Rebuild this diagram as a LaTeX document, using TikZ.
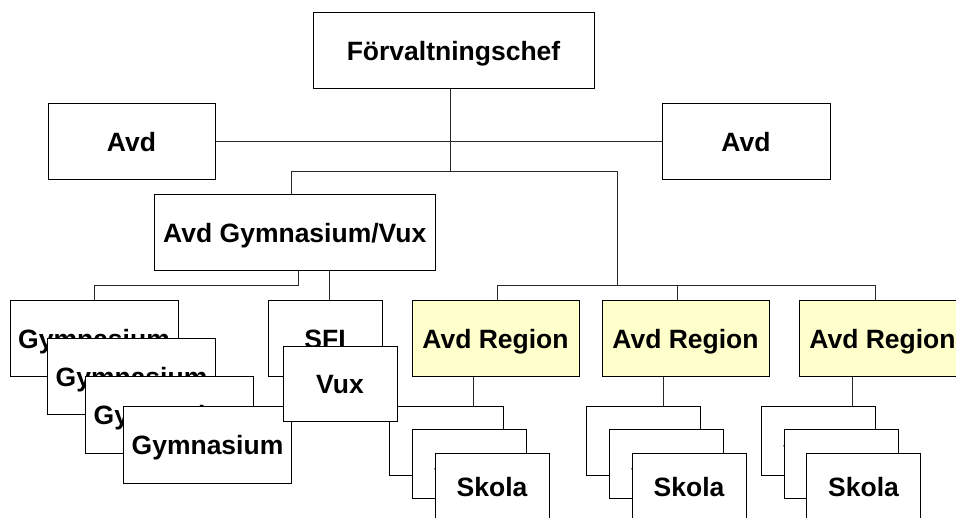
\documentclass[tikz,border=0pt]{standalone}
\usepackage{fontspec}
\setmainfont{Liberation Sans}
\usetikzlibrary{backgrounds}
\definecolor{regyellow}{RGB}{255,255,204}
\definecolor{linegray}{RGB}{40,40,40}
\begin{document}
\begin{tikzpicture}[x=1pt,y=-1pt,
  box/.style={draw=black, fill=white, line width=1pt, inner sep=0pt,
    font=\fontsize{26.5}{30}\selectfont\bfseries,
    text height=19pt, text depth=0pt, minimum height=76pt},
  regbox/.style={box, fill=regyellow, minimum width=167pt},
  skolabox/.style={box, minimum width=114pt, minimum height=68pt},
  gymbox/.style={box, minimum width=168pt},
  conn/.style={draw=linegray, line width=1pt}]
\useasboundingbox (0,0) rectangle (956,518);
\clip (0,0) rectangle (956,518);

% top levels
\node[box, minimum width=281pt] (chef) at (453.5,51) {Förvaltningschef};
\node[box, minimum width=167pt] (avdL) at (131.5,142) {Avd};
\node[box, minimum width=168pt] (avdR) at (746,142) {Avd};
\node[box, minimum width=281pt] (avdGV) at (294.8,233) {Avd Gymnasium/Vux};

% Gymnasium stack
\node[gymbox] (g1) at (94,339) {Gymnasium};
\node[gymbox] (g2) at (131.5,377) {Gymnasium};
\node[gymbox] (g3) at (169.5,415) {Gymnasium};
\node[gymbox] (g4) at (207.5,445) {Gymnasium};

% SFI
\node[box, minimum width=114pt] (sfi) at (325,339) {SFI};

% Regions
\node[regbox] (r1) at (495.5,339) {Avd Region};
\node[regbox] (r2) at (685.5,339) {Avd Region};
\node[regbox] (r3) at (882.5,339) {Avd Region};

% Skola stacks
\node[skolabox] (s1a) at (446.5,441) {Skola};
\node[skolabox] (s1b) at (469,464) {Skola};
\node[skolabox] (s1c) at (492,487) {Skola};
\node[skolabox] (s2a) at (643.5,441) {Skola};
\node[skolabox] (s2b) at (666,464) {Skola};
\node[skolabox] (s2c) at (689,487) {Skola};
\node[skolabox] (s3a) at (818,441) {Skola};
\node[skolabox] (s3b) at (841,464) {Skola};
\node[skolabox] (s3c) at (863.5,487) {Skola};

% Vux on top
\node[box, minimum width=114pt, minimum height=75pt] (vux) at (340,384.5) {Vux};

\coordinate (j1) at (450,172);

\begin{pgfonlayer}{background}
\fill[white] (0,0) rectangle (956,518);
\draw[conn] (avdL.east) -- (avdR.west);
\draw[conn] (chef.south -| j1) -- (j1);
\draw[conn] (291,0 |- avdGV.north) |- (617,172) -- (617,0 |- r1.north |- 0,286);
\draw[conn] (298,0 |- avdGV.south) -- (298,286) -| (g1.north);
\draw[conn] (329,0 |- avdGV.south) -- (329,0 |- sfi.north);
\draw[conn] (497,0 |- r1.north) |- (875,286) -- (875,0 |- r3.north);
\draw[conn] (677,286) -- (677,0 |- r2.north);
\draw[conn] (473,0 |- r1.south) -- (473,0 |- s1a.north);
\draw[conn] (663,0 |- r2.south) -- (663,0 |- s2a.north);
\draw[conn] (852,0 |- r3.south) -- (852,0 |- s3a.north);
\end{pgfonlayer}
\end{tikzpicture}
\end{document}
